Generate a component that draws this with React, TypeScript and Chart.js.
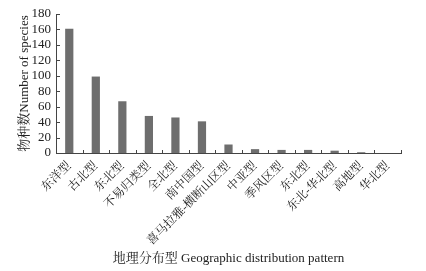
import React, { useEffect, useRef } from "react";
import { Chart, registerables } from "chart.js";

Chart.register(...registerables);

const categories = [
  "东洋型", "古北型", "东北型", "不易归类型", "全北型", "南中国型",
  "喜马拉雅-横断山区型", "中亚型", "季风区型", "东北型", "东北-华北型", "高地型", "华北型",
];
const speciesCounts = [161, 99, 67, 48, 46, 41, 11, 5, 4, 4, 3, 1, 0];
const yTicks = [0, 20, 40, 60, 80, 100, 120, 140, 160, 180];

const FONT = "'Liberation Serif', 'Noto Serif CJK SC', 'Noto Sans CJK SC', serif";

const innerTicks = {
  id: "innerTicks",
  afterDraw(chart: any) {
    const ctx = chart.ctx;
    const x = chart.scales.x;
    const y = chart.scales.y;
    const area = chart.chartArea;
    ctx.save();
    ctx.strokeStyle = "#444";
    ctx.lineWidth = 1;
    ctx.beginPath();
    y.ticks.forEach((t: any) => {
      const py = Math.round(y.getPixelForValue(t.value)) + 0.5;
      ctx.moveTo(area.left, py);
      ctx.lineTo(area.left + 4, py);
    });
    const n = categories.length;
    const half = (x.getPixelForValue(1) - x.getPixelForValue(0)) / 2;
    for (let i = 0; i <= n; i++) {
      const px = Math.round(x.getPixelForValue(i) - half) + 0.5;
      ctx.moveTo(px, area.bottom);
      ctx.lineTo(px, area.bottom - 3);
    }
    ctx.stroke();
    ctx.restore();
  },
};

export default function App() {
  const ref = useRef<HTMLCanvasElement | null>(null);
  useEffect(() => {
    if (!ref.current) return;
    const chart = new Chart(ref.current, {
      type: "bar",
      data: {
        labels: categories,
        datasets: [
          {
            data: speciesCounts,
            backgroundColor: "#6e6e6e",
            borderWidth: 0,
            categoryPercentage: 1,
            barPercentage: 0.31,
          },
        ],
      },
      options: {
        animation: false,
        responsive: false,
        maintainAspectRatio: false,
        layout: { padding: { top: 14, right: 25, left: 17, bottom: 0 } },
        plugins: { legend: { display: false }, tooltip: { enabled: false } },
        scales: {
          x: {
            afterFit: (s: any) => { s.height = 118; },
            grid: { display: false, drawTicks: false, offset: true },
            border: { display: true, color: "#444", width: 1 },
            ticks: {
              autoSkip: false,
              minRotation: 45,
              maxRotation: 45,
              padding: 6,
              color: "#222",
              font: { family: FONT, size: 12 },
            },
            title: {
              display: true,
              text: "地理分布型 Geographic distribution pattern",
              color: "#222",
              font: { family: FONT, size: 13 },
              padding: { top: 0, bottom: 5 },
            },
          },
          y: {
            min: 0,
            max: 180,
            afterFit: (s: any) => { s.width = 39; },
            afterBuildTicks: (s: any) => { s.ticks = yTicks.map((v) => ({ value: v })); },
            grid: { display: false, drawTicks: false },
            border: { display: true, color: "#444", width: 1 },
            ticks: {
              autoSkip: false,
              color: "#222",
              padding: 5,
              font: { family: FONT, size: 13 },
            },
            title: {
              display: true,
              text: "物种数Number of species",
              color: "#222",
              font: { family: FONT, size: 13 },
              padding: { top: 0, bottom: 0 },
            },
          },
        },
      },
      plugins: [innerTicks],
    });
    return () => chart.destroy();
  }, []);
  return (
    <div style={{ position: "absolute", left: 0, top: 0, width: 426, height: 271, background: "#fff" }}>
      <canvas ref={ref} width={426} height={271} />
    </div>
  );
}
